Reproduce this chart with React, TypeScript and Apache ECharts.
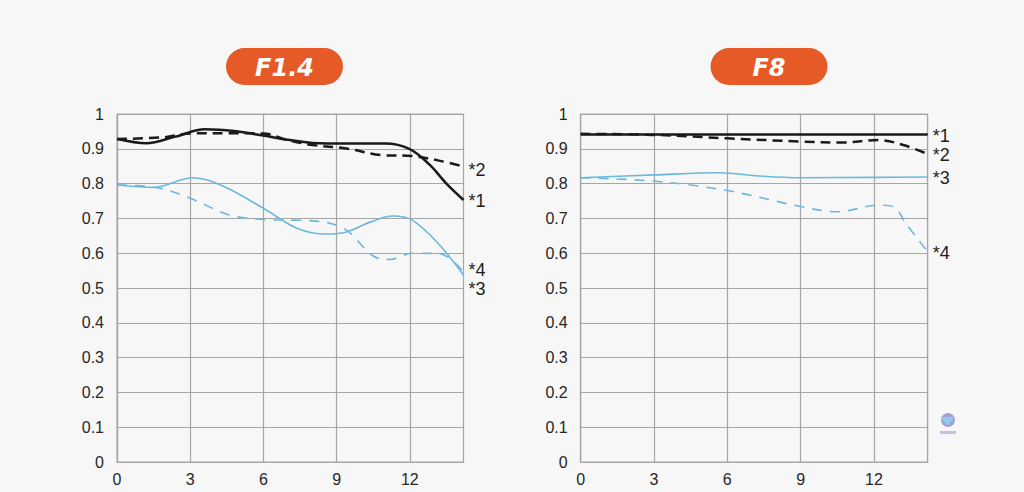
import React, { useEffect, useRef } from "react";
import * as echarts from "echarts";

// ---------- data ----------
const yTicks = [0, 0.1, 0.2, 0.3, 0.4, 0.5, 0.6, 0.7, 0.8, 0.9, 1];
const xTicks = [0, 3, 6, 9, 12];
const xMax = 14.2;
const panelTitles = ["F1.4", "F8"];
const seriesNames = ["*1", "*2", "*3", "*4"];

// F1.4
const f14s1X = [0, 1.2, 2.4, 3.6, 4.8, 6, 7, 8, 9.5, 11, 12, 12.8, 13.5, 14.2];
const f14s1Y = [0.928, 0.916, 0.935, 0.956, 0.951, 0.938, 0.926, 0.917, 0.915, 0.915, 0.899, 0.855, 0.8, 0.753];
const f14s2X = [0, 1.9, 3, 4.6, 6, 7, 8, 9.4, 10.8, 12.1, 13.2, 14.2];
const f14s2Y = [0.928, 0.933, 0.944, 0.945, 0.944, 0.925, 0.911, 0.901, 0.882, 0.879, 0.866, 0.849];
const f14s3X = [0, 1.5, 3.1, 4.4, 6, 7.4, 8.6, 9.4, 10.4, 11.3, 12.1, 13.2, 14.2];
const f14s3Y = [0.796, 0.789, 0.817, 0.791, 0.729, 0.671, 0.655, 0.661, 0.69, 0.707, 0.695, 0.625, 0.537];
const f14s4X = [0, 1.6, 3, 4.6, 6, 8, 9.3, 10.5, 11.2, 12.1, 13.2, 14.2];
const f14s4Y = [0.796, 0.789, 0.758, 0.71, 0.697, 0.693, 0.671, 0.592, 0.582, 0.6, 0.599, 0.547];

// F8
const f8s1X = [0, 3, 6, 9, 12, 14.2];
const f8s1Y = [0.941, 0.941, 0.941, 0.941, 0.941, 0.941];
const f8s2X = [0, 3, 6, 9, 10.7, 12.2, 13.2, 14.2];
const f8s2Y = [0.943, 0.94, 0.93, 0.921, 0.918, 0.925, 0.911, 0.885];
const f8s3X = [0, 3, 5.7, 7.3, 9, 12, 14.2];
const f8s3Y = [0.817, 0.825, 0.831, 0.822, 0.817, 0.818, 0.819];
const f8s4X = [0, 3, 6, 9, 10.5, 12.2, 12.8, 13.3, 14.2];
const f8s4Y = [0.817, 0.807, 0.78, 0.734, 0.719, 0.738, 0.734, 0.686, 0.604];

const zip = (xs: number[], ys: number[]) => xs.map((x, i) => [x, ys[i]]);

const BLACK = "#1a1a1a";
const BLUE = "#6cb8dc";
const GRID = "#a6a6a6";
const ORANGE = "#e65a27";
const BG = "#f7f7f7";

export default function App() {
  const ref = useRef<HTMLDivElement>(null);
  useEffect(() => {
    if (!ref.current) return;
    const chart = echarts.init(ref.current, undefined, { renderer: "svg" });
    const grids = [
      { left: 117, top: 114, width: 346.5, height: 348 },
      { left: 580.7, top: 114, width: 347, height: 348 },
    ];
    const panels = [
      [zip(f14s1X, f14s1Y), zip(f14s2X, f14s2Y), zip(f14s3X, f14s3Y), zip(f14s4X, f14s4Y)],
      [zip(f8s1X, f8s1Y), zip(f8s2X, f8s2Y), zip(f8s3X, f8s3Y), zip(f8s4X, f8s4Y)],
    ];
    const labelOffsets = [
      [[5, 1], [5, 3], [5, 14], [5, -2]],
      [[5, 1], [5, 1], [5, 1], [5, 1]],
    ];
    const styles = [
      { color: BLACK, width: 2.5, type: "solid" },
      { color: BLACK, width: 2.5, type: [10, 6] },
      { color: BLUE, width: 1.6, type: "solid" },
      { color: BLUE, width: 1.6, type: [10, 8] },
    ];
    const series: any[] = [];
    panels.forEach((p, gi) => {
      p.forEach((d, si) => {
        const st = styles[si];
        series.push({
          type: "line",
          xAxisIndex: gi,
          yAxisIndex: gi,
          data: d,
          smooth: 0.35,
          showSymbol: false,
          symbol: "none",
          lineStyle: { color: st.color, width: st.width, type: st.type as any },
          endLabel: {
            show: true,
            formatter: seriesNames[si],
            color: "#1e1e1e",
            fontSize: 18,
            fontFamily: "Liberation Sans, Arial, sans-serif",
            offset: labelOffsets[gi][si],
            distance: 0,
          },
          silent: true,
        });
      });
    });
    const axisFont = { color: "#262626", fontSize: 16, fontFamily: "Liberation Sans, Arial, sans-serif" };
    const option: any = {
      animation: false,
      backgroundColor: BG,
      grid: grids.map((g) => ({ ...g, show: true, borderColor: GRID, borderWidth: 1, backgroundColor: "transparent" })),
      xAxis: grids.map((_, i) => ({
        type: "value",
        gridIndex: i,
        min: 0,
        max: xMax,
        interval: 3,
        axisLine: { show: true, lineStyle: { color: GRID, width: 1.2 } },
        axisTick: { show: false },
        splitLine: { show: true, lineStyle: { color: GRID, width: 1.2 } },
        axisLabel: {
          ...axisFont,
          margin: 9,
          showMaxLabel: false,
          formatter: (v: number) => (xTicks.includes(v) ? String(v) : ""),
        },
      })),
      yAxis: grids.map((_, i) => ({
        type: "value",
        gridIndex: i,
        min: 0,
        max: 1,
        interval: 0.1,
        axisLine: { show: true, lineStyle: { color: GRID, width: 1.2 } },
        axisTick: { show: false },
        splitLine: { show: true, lineStyle: { color: GRID, width: 1.2 } },
        axisLabel: {
          ...axisFont,
          margin: 13,
          formatter: (v: number) => {
            const t = yTicks.find((k) => Math.abs(k - v) < 1e-6);
            if (t === undefined) return "";
            return t === 0 ? "0" : t === 1 ? "1" : t.toFixed(1);
          },
        },
      })),
      graphic: [
        ...[284.5, 769].map((cx, i) => ({
          type: "group",
          x: cx,
          y: 66.5,
          children: [
            {
              type: "rect",
              shape: { x: -58.5, y: -18.5, width: 117, height: 37, r: 18.5 },
              style: { fill: ORANGE },
            },
            {
              type: "text",
              x: 0,
              y: 1,
              style: {
                text: panelTitles[i],
                fill: "#ffffff",
                fontSize: 24,
                fontWeight: "bold",
                fontStyle: "italic",
                fontFamily: "DejaVu Sans, sans-serif",
                align: "center",
                verticalAlign: "middle",
              },
            },
          ],
        })),
        {
          type: "group",
          x: 948,
          y: 420,
          children: [
            { type: "circle", shape: { cx: 0, cy: 0, r: 7 }, style: { fill: "#9b8fd0", opacity: 0.85 } },
            { type: "polygon", shape: { points: [[-8, -3], [6, -3], [0, 6]] }, style: { fill: "#8fd0ee", opacity: 0.9 } },
            { type: "rect", shape: { x: -8, y: 11, width: 16, height: 3 }, style: { fill: "#a99ad0", opacity: 0.6 } },
          ],
        },
      ],
      series,
    };
    chart.setOption(option);
    return () => chart.dispose();
  }, []);
  return (
    <div
      ref={ref}
      style={{ position: "fixed", left: 0, top: 0, width: 1024, height: 492, background: BG }}
    />
  );
}
